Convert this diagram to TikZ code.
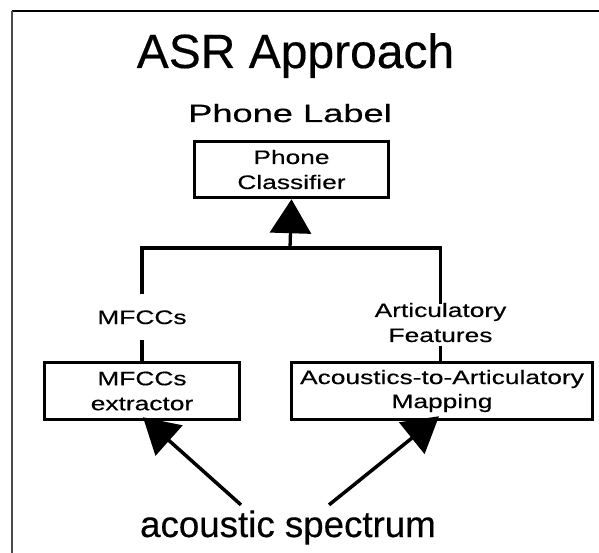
\documentclass[tikz,border=0pt]{standalone}
\usepackage{fontspec}
\setmainfont[FakeBold=0.4]{Liberation Sans}
\newfontfamily\wideA[FakeStretch=1.35,FakeBold=0.4]{Liberation Sans}
\newfontfamily\wideB[FakeStretch=1.45,FakeBold=0.4]{Liberation Sans}
\usetikzlibrary{arrows.meta}
\begin{document}
\begin{tikzpicture}[x=1pt,y=-1pt,
  box/.style={draw,line width=3.5pt,inner sep=0pt,align=center,font=\wideA\fontsize{19.5}{25}\selectfont},
  lab/.style={inner xsep=0pt,align=center,font=\wideA\fontsize{19.5}{25}\selectfont},
  conn/.style={line width=3.3pt},
  bigarrow/.style={line width=3.5pt,-{Triangle[length=35pt,width=40pt]}},
  uparrow/.style={line width=3.3pt,-{Triangle[length=34pt,width=41pt]}}
]
\useasboundingbox (0,0) rectangle (599,553);
% frame
\draw[line width=2.2pt] (11.5,11) -- (599,11);
\draw[line width=1.4pt,black!70] (12,11) -- (12,553);
% texts
\node[font=\fontsize{48}{56}\selectfont,anchor=base,inner sep=0pt] (title) at (295.5,68) {ASR Approach};
\node[font=\wideB\fontsize{25}{30}\selectfont,anchor=base,inner sep=0pt] (pl) at (290,122) {Phone Label};
% boxes
\node[box,minimum width=194pt,minimum height=56pt] (pc) at (291.5,169.5) {Phone\\Classifier};
\node[box,minimum width=195pt,minimum height=57pt] (mx) at (142,391) {MFCCs\\extractor};
\node[box,minimum width=301pt,minimum height=57pt] (ax) at (442,391) {Acoustics-to-Articulatory\\[-1pt]Mapping};
% labels
\node[lab,anchor=base,inner ysep=16pt,text depth=0pt] (ml) at (142,324) {MFCCs};
\node[lab,inner ysep=4pt] (al) at (440.5,322.5) {Articulatory\\Features};
\node[font=\fontsize{36.7}{44}\selectfont,anchor=base] (as) at (288,537) {acoustic spectrum};
% tree
\coordinate (j) at (290,248);
\draw[conn] (ml.north) |- (j) -| ([yshift=-5pt]al.north);
\draw[uparrow] (j) -- (pc.south);
\draw[conn] (ml.south) -- (mx.north);
\draw[conn] (al.south) -- (ax.north -| al.south);
% input arrows
\draw[bigarrow] ([xshift=-47pt,yshift=2pt]as.north) -- ([xshift=1pt,yshift=4pt]mx.south);
\draw[bigarrow] ([xshift=41pt,yshift=2pt]as.north) -- ([xshift=-3pt,yshift=5pt]ax.south);
\end{tikzpicture}
\end{document}
